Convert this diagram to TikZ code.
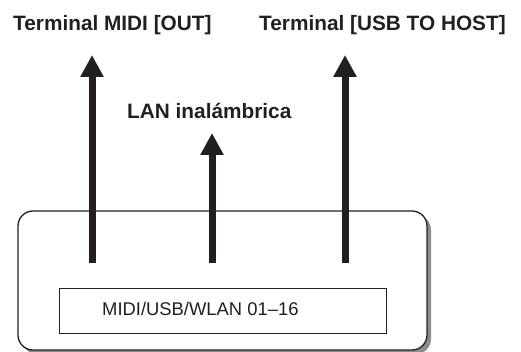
\documentclass[tikz,border=0pt]{standalone}
\usepackage{fontspec}
\setmainfont{Liberation Sans}
\usetikzlibrary{arrows.meta}
\definecolor{ink}{HTML}{231F20}
\tikzset{
  bigarrow/.style={draw=ink, line width=7pt, -{Triangle[width=22pt,length=22pt]}},
  lbl/.style={font=\fontsize{20.8}{24}\selectfont\bfseries, text=ink, inner sep=0pt, anchor=base west},
}
\begin{document}
\begin{tikzpicture}[x=1pt,y=-1pt]
\useasboundingbox (0,0) rectangle (521,352);
% shadow and outer box
\fill[black!45, rounded corners=15pt] (22,215) rectangle (431,354);
\draw[ink, line width=1.3pt, fill=white, rounded corners=15pt] (18,211) rectangle (427,350);
\node[draw=ink, line width=1.2pt, minimum width=327pt, minimum height=45pt, anchor=north west, inner sep=0pt] (chan) at (59,288) {};
\node[anchor=base west, inner sep=0pt, text=ink, font=\fontsize{18.4}{21}\selectfont] (chantxt) at (102,315) {MIDI/USB/WLAN 01–16};
% arrow endpoints
\coordinate (s1) at (92,263);
\coordinate (e1) at (92,55);
\coordinate (s2) at (212,263);
\coordinate (e2) at (212,133);
\coordinate (s3) at (345,263);
\coordinate (e3) at (345,55);
\draw[bigarrow] (s1) -- (e1);
\draw[bigarrow] (s2) -- (e2);
\draw[bigarrow] (s3) -- (e3);
% labels
\node[lbl] (l1) at (13,31) {Terminal MIDI [OUT]};
\node[lbl] (l3) at (259,31) {Terminal [USB TO HOST]};
\node[lbl] (l2) at (127,119) {LAN inalámbrica};
\end{tikzpicture}
\end{document}
